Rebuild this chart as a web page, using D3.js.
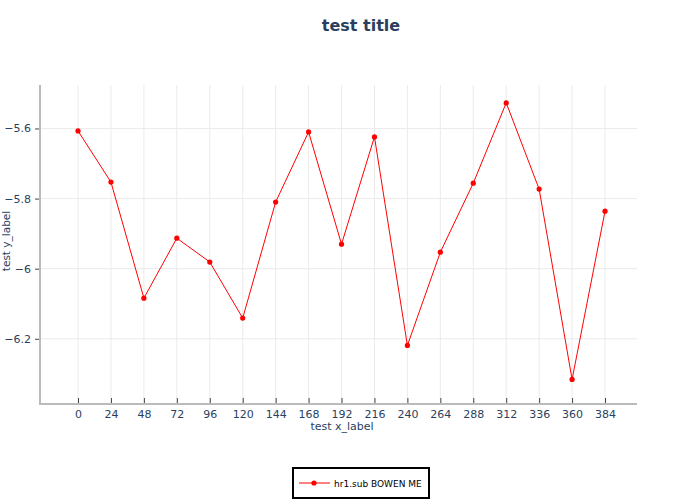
<!DOCTYPE html>
<html><head><meta charset="utf-8">
<script src="https://cdn.jsdelivr.net/npm/d3@7"></script>
<style>body{margin:0;background:#fff}svg{display:block;font-family:"DejaVu Sans",sans-serif}</style>
</head><body><svg id="c" width="700" height="500"></svg>
<script>
const xValues = [0,24,48,72,96,120,144,168,192,216,240,264,288,312,336,360,384];
const yValues = [-5.607,-5.753,-6.084,-5.913,-5.981,-6.141,-5.810,-5.610,-5.930,-5.624,-6.219,-5.953,-5.756,-5.527,-5.773,-6.316,-5.836];
const xTicks = [0,24,48,72,96,120,144,168,192,216,240,264,288,312,336,360,384];
const yTicks = [-5.6,-5.8,-6,-6.2];
const seriesName = "hr1.sub BOWEN ME";

const svg = d3.select("#c");
const L=40,R=637,T=85,B=404;
const x = d3.scaleLinear().domain([-27.7,407.3]).range([L,R]);
const y = d3.scaleLinear().domain([-6.386,-5.476]).range([B,T]);
const txt="#2a3f5f";

// grid
svg.append("g").selectAll("line").data(xTicks).join("line")
 .attr("x1",d=>x(d)).attr("x2",d=>x(d)).attr("y1",T).attr("y2",B).attr("stroke","#ebebeb");
svg.append("g").selectAll("line").data(yTicks).join("line")
 .attr("y1",d=>y(d)).attr("y2",d=>y(d)).attr("x1",L).attr("x2",R).attr("stroke","#ebebeb");

const fmt = d=>String(d).replace("-","\u2212");
const xa = svg.append("g").attr("transform",`translate(0,${B})`)
 .call(d3.axisBottom(x).tickValues(xTicks).tickSize(-6).tickPadding(12).tickFormat(d=>d));
const ya = svg.append("g").attr("transform",`translate(${L},0)`)
 .call(d3.axisLeft(y).tickValues(yTicks).tickSize(5).tickPadding(4).tickFormat(fmt));
[xa,ya].forEach(a=>{
 a.select(".domain").remove();
 a.selectAll(".tick line").attr("stroke","#444").attr("stroke-width",1);
 a.selectAll("text").attr("fill",txt).attr("font-size",11).attr("font-family","DejaVu Sans");
});
xa.selectAll(".tick text").attr("y",6);
svg.append("line").attr("x1",L).attr("x2",L).attr("y1",T).attr("y2",B+1).attr("stroke","#bbb").attr("stroke-width",2);
svg.append("line").attr("x1",L-1).attr("x2",R).attr("y1",B).attr("y2",B).attr("stroke","#bbb").attr("stroke-width",2);

const pts = xValues.map((d,i)=>[d,yValues[i]]);
svg.append("path").datum(pts).attr("fill","none").attr("stroke","red").attr("stroke-width",1)
 .attr("d",d3.line().x(d=>x(d[0])).y(d=>y(d[1])));
svg.append("g").selectAll("circle").data(pts).join("circle")
 .attr("cx",d=>x(d[0])).attr("cy",d=>y(d[1])).attr("r",2.6).attr("fill","red");

svg.append("text").attr("x",361).attr("y",31).attr("text-anchor","middle").attr("font-size",16)
 .attr("font-weight","bold").attr("fill",txt).text("test title");
svg.append("text").attr("x",342).attr("y",430).attr("text-anchor","middle").attr("font-size",11)
 .attr("fill",txt).text("test x_label");
svg.append("text").attr("transform","translate(10,241) rotate(-90)").attr("text-anchor","middle").attr("font-size",10.5)
 .attr("fill",txt).text("test y_label");

const lg = svg.append("g");
lg.append("rect").attr("x",293).attr("y",468).attr("width",136).attr("height",30).attr("fill","#fff").attr("stroke","#000").attr("stroke-width",2);
lg.append("line").attr("x1",299).attr("x2",330).attr("y1",483).attr("y2",483).attr("stroke","red");
lg.append("circle").attr("cx",314).attr("cy",483).attr("r",2.6).attr("fill","red");
lg.append("text").attr("x",334).attr("y",486.5).attr("font-size",9).attr("fill","#000").text(seriesName);
</script></body></html>
